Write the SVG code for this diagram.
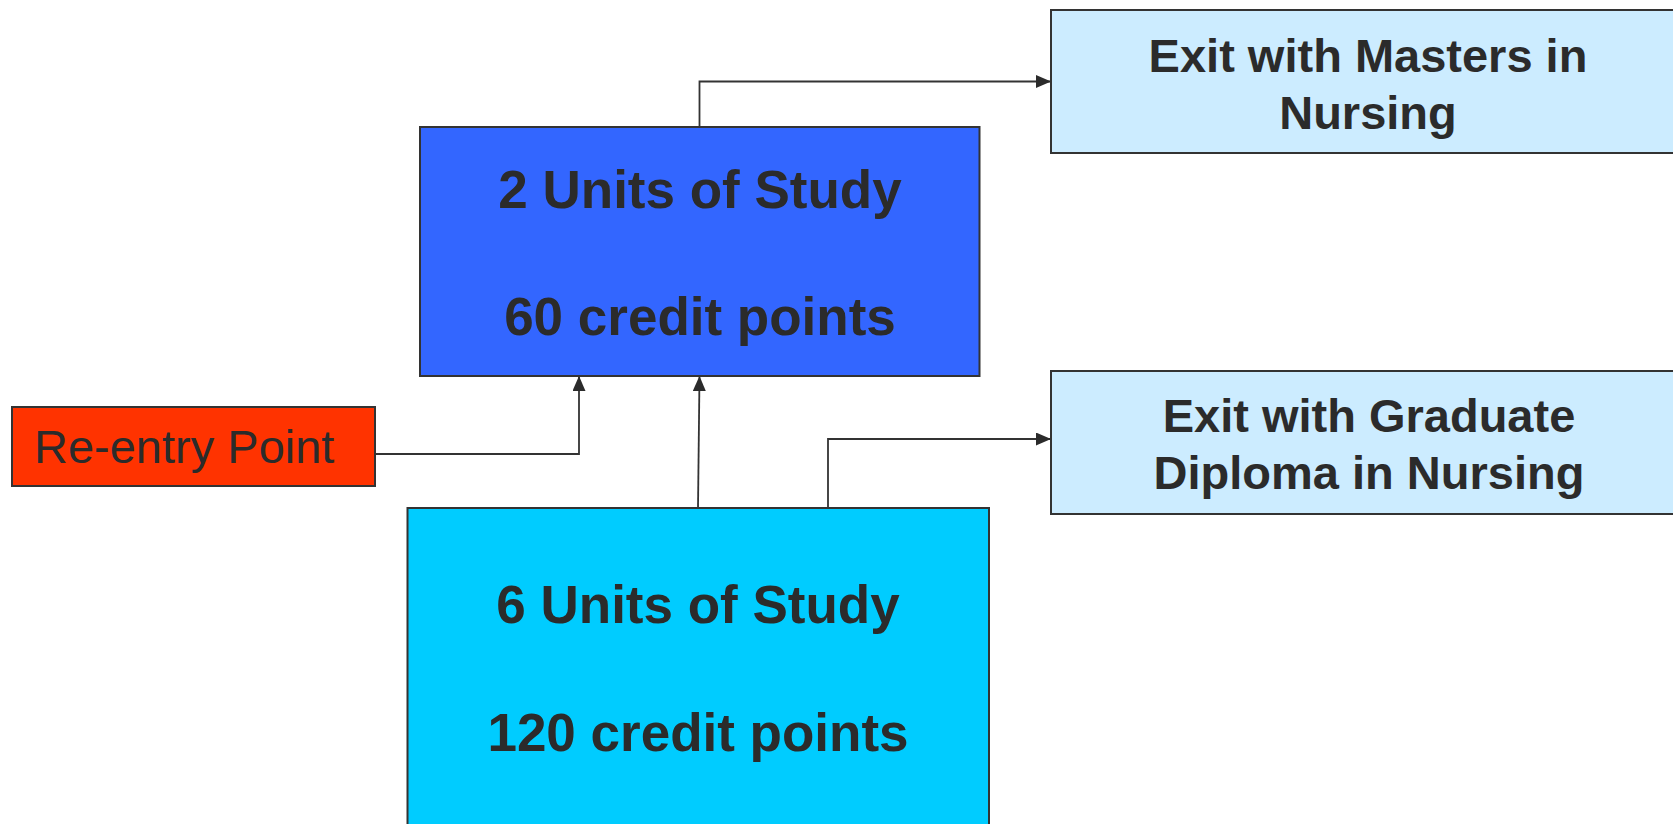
<svg xmlns="http://www.w3.org/2000/svg" width="1673" height="824" viewBox="0 0 1673 824">
<style>
.box{stroke:#333333;stroke-width:2}
.t{font-family:"Liberation Sans",Arial,sans-serif;fill:#2b2b2b;text-anchor:middle}
.b{font-weight:bold}
.con{fill:none;stroke:#333333;stroke-width:1.8}
</style>
<defs>
<marker id="arr" viewBox="0 0 15 13" refX="15" refY="6.5" markerWidth="15" markerHeight="13" markerUnits="userSpaceOnUse" orient="auto">
<path d="M0,0 L15,6.5 L0,13 Z" fill="#2b2b2b"/>
</marker>
</defs>
<rect width="1673" height="824" fill="#ffffff"/>
<g id="connectors">
<path class="con" d="M699.5,127 V81.5 H1051" marker-end="url(#arr)"/>
<path class="con" d="M375,454 H579 V376" marker-end="url(#arr)"/>
<path class="con" d="M698,508 L699.5,376" marker-end="url(#arr)"/>
<path class="con" d="M828,508 V439 H1051" marker-end="url(#arr)"/>
</g>
<g id="units2">
<rect class="box" x="420" y="127" width="559.5" height="249" fill="#3366FF"/>
<text class="t b" x="700" y="208" font-size="53">2 Units of Study</text>
<text class="t b" x="700" y="335" font-size="53">60 credit points</text>
</g>
<g id="units6">
<rect class="box" x="407.5" y="508" width="581.5" height="330" fill="#00CCFF"/>
<text class="t b" x="698" y="623" font-size="53">6 Units of Study</text>
<text class="t b" x="698" y="751" font-size="53">120 credit points</text>
</g>
<g id="reentry">
<rect class="box" x="12" y="407" width="363" height="79" fill="#FF3300"/>
<text class="t" x="34" y="463" font-size="47" style="text-anchor:start">Re-entry Point</text>
</g>
<g id="masters">
<rect class="box" x="1051" y="10" width="630" height="143" fill="#CCECFF"/>
<text class="t b" x="1368" y="72" font-size="47">Exit with Masters in</text>
<text class="t b" x="1368" y="129" font-size="47">Nursing</text>
</g>
<g id="graddip">
<rect class="box" x="1051" y="371" width="630" height="143" fill="#CCECFF"/>
<text class="t b" x="1369" y="432" font-size="47">Exit with Graduate</text>
<text class="t b" x="1369" y="489" font-size="47">Diploma in Nursing</text>
</g>
</svg>
